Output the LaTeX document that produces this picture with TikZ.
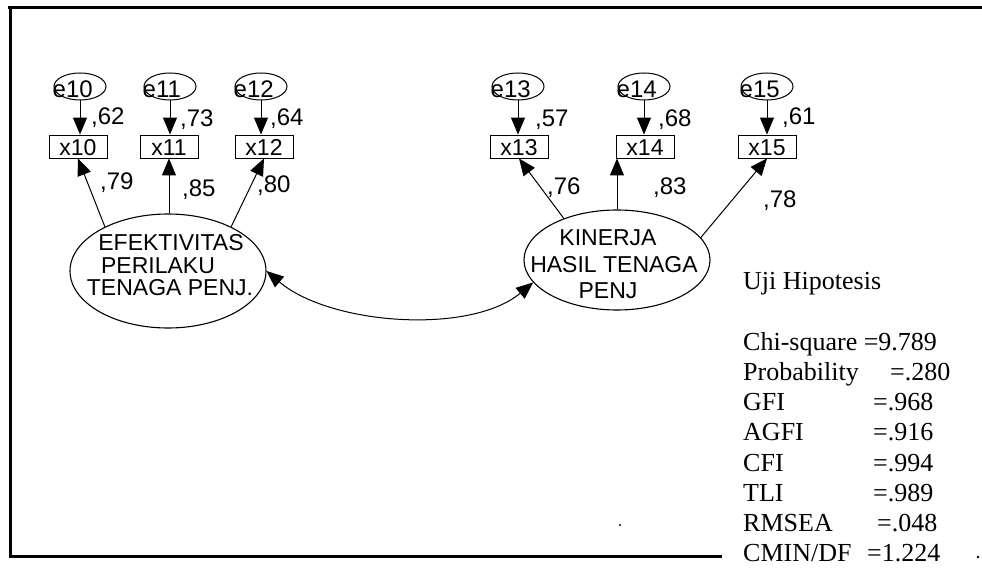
\documentclass[tikz,border=0pt]{standalone}
\usepackage{fontspec}
\setmainfont{Liberation Serif}
\newfontfamily\arial{Liberation Sans}
\usetikzlibrary{shapes.geometric,arrows.meta,calc}
\begin{document}
\begin{tikzpicture}[x=1pt,y=-1pt,
  lat/.style={ellipse,draw,line width=1.1pt,inner sep=0pt},
  err/.style={ellipse,draw,line width=1pt,minimum width=52pt,minimum height=27pt,inner sep=0pt},
  obs/.style={rectangle,draw,line width=0.9pt,minimum width=58pt,minimum height=23pt,inner sep=0pt},
  sf/.style={font=\arial\fontsize{23}{27}\selectfont,inner sep=0pt},
  coef/.style={font=\arial\fontsize{24}{27}\selectfont,inner sep=0pt,anchor=base west},
  stat/.style={font=\fontsize{26}{30}\selectfont,inner sep=0pt,anchor=base west},
  arr/.style={-{Triangle[length=17pt,width=14pt]},line width=1pt},
  dblarr/.style={{Triangle[length=17pt,width=14pt]}-{Triangle[length=17pt,width=14pt]},line width=1pt},
  frameline/.style={line width=3pt}
]
\useasboundingbox (0,0) rectangle (982,569);
% frame
\draw[frameline] (8,8) -- (982,8);
\draw[frameline] (10,8) -- (10,556) -- (722,556);
\fill (978,557) circle (1.4);
\fill (620,525) circle (1.1);

% latent variables
\node[lat,minimum width=196pt,minimum height=114pt] (F1) at (168,271) {};
\node[sf] (F1a) at (171,243) {EFEKTIVITAS};
\node[sf] (F1b) at (158,266) {PERILAKU};
\node[sf] (F1c) at (170,288) {TENAGA PENJ.};
\node[lat,minimum width=186pt,minimum height=100pt] (F2) at (617,260) {};
\node[sf] (F2a) at (608,238) {KINERJA};
\node[sf] (F2b) at (614,265) {HASIL TENAGA};
\node[sf] (F2c) at (608,291) {PENJ};

% observed boxes
\foreach \n/\x in {10/78,11/169,12/264,13/519,14/645,15/767}{
  \node[obs] (x\n) at (\x,146.5) {};
  \node[sf,anchor=base] (tx\n) at (\x,156) {x\n};
}
% error terms
\foreach \n/\x in {10/80,11/170,12/261,13/518,14/644,15/767}{
  \node[err] (e\n) at (\x,86.5) {};
  \node[sf,anchor=base west,font=\arial\fontsize{24}{27}\selectfont] (te\n) at (\x-27.5,98) {e\n};
  \draw[arr] (e\n.south) -- (e\n.south |- x\n.north);
}

% loadings
\draw[arr] (F1.145) -- (x10.south);
\draw[arr] (x11.south |- F1.north) -- (x11.south);
\draw[arr] (F1.35) -- (x12.south);
\draw[arr] (F2.142) -- (x13.south);
\draw[arr] (F2.north) -- (F2.north |- x14.south);
\draw[arr] (F2.15) -- (x15.south);

% covariance
\draw[dblarr] (F1.east) .. controls (330,325) and (470,335) .. (F2.195);

% coefficient labels
\node[coef] (c62) at (91,125) {,62};
\node[coef] (c73) at (180,127) {,73};
\node[coef] (c64) at (270,126) {,64};
\node[coef] (c57) at (535,127) {,57};
\node[coef] (c68) at (658,127) {,68};
\node[coef] (c61) at (782,125) {,61};
\node[coef] (c79) at (100,190) {,79};
\node[coef] (c85) at (182,197) {,85};
\node[coef] (c80) at (257,193) {,80};
\node[coef] (c76) at (547,195) {,76};
\node[coef] (c83) at (653,195) {,83};
\node[coef] (c78) at (763,208) {,78};

% fit statistics
\node[stat] (uji) at (743,290) {Uji Hipotesis};
\node[stat] (s1) at (743,350) {Chi-square =9.789};
\node[stat] (s2) at (743,380) {Probability};
\node[stat] (v2) at (890,380) {=.280};
\node[stat] (s3) at (743,410) {GFI};
\node[stat] (v3) at (873,410) {=.968};
\node[stat] (s4) at (743,440) {AGFI};
\node[stat] (v4) at (873,440) {=.916};
\node[stat] (s5) at (743,471) {CFI};
\node[stat] (v5) at (873,471) {=.994};
\node[stat] (s6) at (743,501) {TLI};
\node[stat] (v6) at (873,501) {=.989};
\node[stat] (s7) at (743,531) {RMSEA};
\node[stat] (v7) at (877,531) {=.048};
\node[stat] (s8) at (743,561) {CMIN/DF};
\node[stat] (v8) at (867,561) {=1.224};
\end{tikzpicture}
\end{document}
